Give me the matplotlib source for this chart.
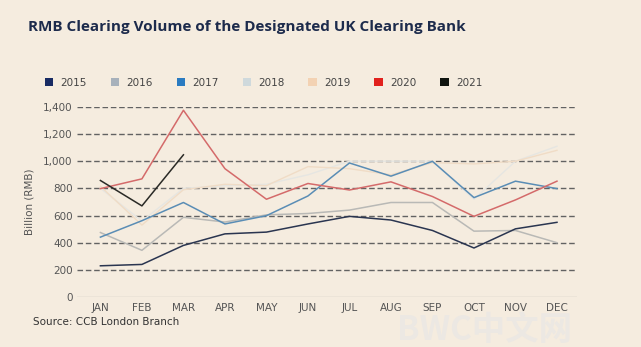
import matplotlib.pyplot as plt
from matplotlib.patches import Patch

# data (billion RMB)
months = ["JAN", "FEB", "MAR", "APR", "MAY", "JUN", "JUL", "AUG", "SEP", "OCT", "NOV", "DEC"]
v2015 = [230, 240, 380, 465, 478, 538, 594, 567, 490, 361, 502, 550]
v2016 = [475, 344, 587, 552, 605, 615, 640, 696, 696, 485, 490, 400]
v2017 = [441, 562, 696, 538, 599, 744, 987, 890, 999, 732, 853, 798]
v2018 = [800, 560, 800, 820, 830, 900, 1000, 1000, 1000, 720, 1000, 1110]
v2019 = [815, 530, 790, 830, 820, 960, 945, 900, 990, 980, 1000, 1080]
v2020 = [798, 870, 1375, 945, 720, 836, 788, 848, 740, 594, 715, 853]
v2021 = [858, 671, 1047]

years = ["2015", "2016", "2017", "2018", "2019", "2020", "2021"]
series = [v2015, v2016, v2017, v2018, v2019, v2020, v2021]
swatch = ["#182b63", "#a7b1bb", "#2a7bc1", "#cfd9dc", "#f3d2b3", "#e1211d", "#101510"]
line_col = ["#2a3550", "#b9b9b6", "#5a8db5", "#e6e6e2", "#f0dcc6", "#d46a6a", "#2a2a26"]
line_w = [1.1, 1.1, 1.1, 1.0, 1.0, 1.1, 1.1]

bg = "#f5ecdf"
fig = plt.figure(figsize=(6.41, 3.47), dpi=100, facecolor=bg)
ax = fig.add_axes([0.120, 0.144, 0.780, 0.548])
ax.set_facecolor(bg)

yticks = [0, 200, 400, 600, 800, 1000, 1200, 1400]
for yv in yticks[1:]:
    ax.axhline(yv, color="#626262", lw=1.0, ls=(0, (4, 2)), zorder=1)
ax.axhline(0, color="#b5b0a8", lw=0.9, zorder=1)

x = list(range(len(months)))
order = [3, 4, 1, 0, 2, 5, 6]
for i in order:
    vals = series[i]
    ax.plot(x[:len(vals)], vals, color=line_col[i], lw=line_w[i], zorder=3)

ax.set_xlim(-0.566, 11.48)
ax.set_ylim(0, 1400)
ax.set_xticks(x)
ax.set_xticklabels(months)
ax.set_yticks(yticks)
ax.set_yticklabels([f"{v:,}" for v in yticks])
ax.tick_params(length=0, labelsize=7.5, colors="#555555", pad=3)
ax.tick_params(axis="x", pad=4)
for s in ax.spines.values():
    s.set_visible(False)
ax.set_ylabel("Billion (RMB)", fontsize=7.5, color="#555555", labelpad=6)

fig.text(0.044, 0.922, "RMB Clearing Volume of the Designated UK Clearing Bank",
         fontsize=11, fontweight="bold", color="#1d2b4c", family="Open Sans", va="center")

handles = [Patch(facecolor=c, edgecolor="none") for c in swatch]
fig.legend(handles, years, loc="center left", bbox_to_anchor=(0.055, 0.762), ncol=7,
           frameon=False, fontsize=7.5, handlelength=0.8, handleheight=0.8,
           handletextpad=0.7, columnspacing=2.3, labelcolor="#444444")

fig.text(0.052, 0.062, "Source: CCB London Branch", fontsize=7.5, color="#333333")
fig.text(0.62, 0.02, "BWC中文网", fontsize=24, color="#ece8e3",
         family=["Noto Sans CJK SC", "DejaVu Sans"], fontweight="bold", zorder=0)

fig.savefig("out.png", dpi=100, facecolor=bg)
